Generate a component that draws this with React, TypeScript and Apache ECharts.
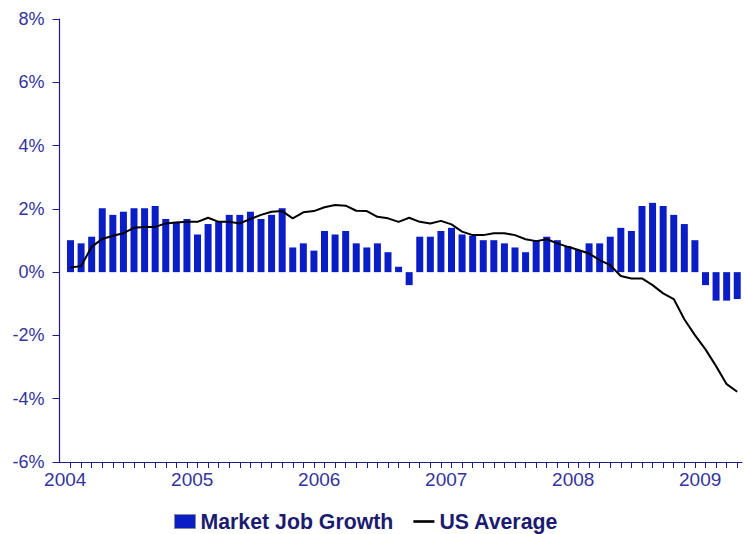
import React, { useEffect, useRef } from "react";
import * as echarts from "echarts";

// Monthly data, Jan 2004 .. Apr 2009
const yearLabels = ["2004", "2005", "2006", "2007", "2008", "2009"];

const marketJobGrowth = [
  // 2004
  1.01, 0.91, 1.12, 2.02, 1.81, 1.91, 2.02, 2.02, 2.09, 1.68, 1.59, 1.68,
  // 2005
  1.19, 1.52, 1.59, 1.81, 1.81, 1.91, 1.68, 1.81, 2.02, 0.78, 0.91, 0.68,
  // 2006
  1.3, 1.19, 1.3, 0.91, 0.78, 0.91, 0.63, 0.17, -0.41, 1.12, 1.12, 1.3,
  // 2007
  1.4, 1.19, 1.15, 1.01, 1.01, 0.91, 0.78, 0.63, 1.01, 1.12, 1.01, 0.82,
  // 2008
  0.7, 0.91, 0.91, 1.12, 1.4, 1.3, 2.09, 2.19, 2.09, 1.81, 1.52, 1.01,
  // 2009
  -0.41, -0.9, -0.9, -0.85,
];

const usAverage = [
  // 2004
  0.15, 0.19, 0.8, 1.05, 1.15, 1.23, 1.4, 1.43, 1.43, 1.54, 1.57, 1.59,
  // 2005
  1.59, 1.72, 1.59, 1.59, 1.54, 1.68, 1.81, 1.91, 1.93, 1.7, 1.89, 1.93,
  // 2006
  2.05, 2.12, 2.1, 1.94, 1.93, 1.75, 1.7, 1.59, 1.72, 1.59, 1.54, 1.62,
  // 2007
  1.51, 1.28, 1.17, 1.17, 1.23, 1.23, 1.17, 1.04, 0.98, 1.04, 0.91, 0.8,
  // 2008
  0.7, 0.59, 0.38, 0.22, -0.12, -0.2, -0.2, -0.41, -0.67, -0.85, -1.49, -1.99,
  // 2009
  -2.44, -2.97, -3.54, -3.78,
];

const yTicks = [-6, -4, -2, 0, 2, 4, 6, 8];

const AXIS_COLOR = "#1e1e8a";
const LABEL_COLOR = "#34349a";
const BAR_COLOR = "#0b1ec6";
const FONT = "'Liberation Sans', Arial, Helvetica, sans-serif";

export default function App() {
  const ref = useRef<HTMLDivElement>(null);

  useEffect(() => {
    if (!ref.current) return;
    const chart = echarts.init(ref.current, null, { renderer: "svg" });

    const monthTicks = marketJobGrowth.map((_, i) => i);
    const yearPositions = yearLabels.map((_, i) => i * 12 - 0.5);

    chart.setOption({
      animation: false,
      backgroundColor: "#ffffff",
      grid: { left: 59.5, right: 2, top: 19, bottom: 72, containLabel: false },
      xAxis: {
        type: "value",
        min: -1.04,
        max: 63.45,
        axisLine: { show: true, onZero: false, lineStyle: { color: AXIS_COLOR, width: 1.2 } },
        axisTick: {
          show: true,
          customValues: monthTicks,
          length: 6,
          lineStyle: { color: AXIS_COLOR, width: 1 },
        },
        axisLabel: {
          customValues: yearPositions,
          formatter: (v: number) => yearLabels[Math.round((v + 0.5) / 12)] ?? "",
          color: LABEL_COLOR,
          fontFamily: FONT,
          fontSize: 19,
          margin: 8,
        },
        splitLine: { show: false },
      },
      yAxis: {
        type: "value",
        min: yTicks[0],
        max: yTicks[yTicks.length - 1],
        interval: 2,
        axisLine: { show: true, onZero: false, lineStyle: { color: AXIS_COLOR, width: 1.2 } },
        axisTick: { show: true, length: 7, lineStyle: { color: AXIS_COLOR, width: 1 } },
        axisLabel: {
          formatter: (v: number) => `${v}%`,
          color: LABEL_COLOR,
          fontFamily: FONT,
          fontSize: 18,
          margin: 15,
        },
        splitLine: { show: false },
      },
      legend: {
        left: 174,
        top: 511,
        padding: 0,
        itemWidth: 21,
        itemHeight: 14,
        itemGap: 20,
        textStyle: { fontFamily: FONT, fontSize: 21.3, fontWeight: "bold", color: "#1b1b6f" },
        data: [
          {
            name: "Market Job Growth",
            icon: "rect",
            itemStyle: { color: BAR_COLOR, borderColor: "#8a8a9a", borderWidth: 1 },
          },
          {
            name: "US Average",
            icon: "path://M0,0 L24,0 L24,3 L0,3 Z",
            itemStyle: { color: "#000000", borderWidth: 0 },
          },
        ],
      },
      series: [
        {
          name: "Market Job Growth",
          type: "bar",
          barWidth: 7,
          itemStyle: { color: BAR_COLOR },
          data: marketJobGrowth.map((v, i) => [i, v]),
        },
        {
          name: "US Average",
          type: "line",
          symbol: "none",
          showSymbol: false,
          lineStyle: { color: "#000000", width: 2 },
          itemStyle: { color: "#000000" },
          data: usAverage.map((v, i) => [i, v]),
          z: 3,
        },
      ],
    });

    return () => chart.dispose();
  }, []);

  return (
    <div
      ref={ref}
      style={{ position: "fixed", left: 0, top: 0, width: 744, height: 534, background: "#fff" }}
    />
  );
}
